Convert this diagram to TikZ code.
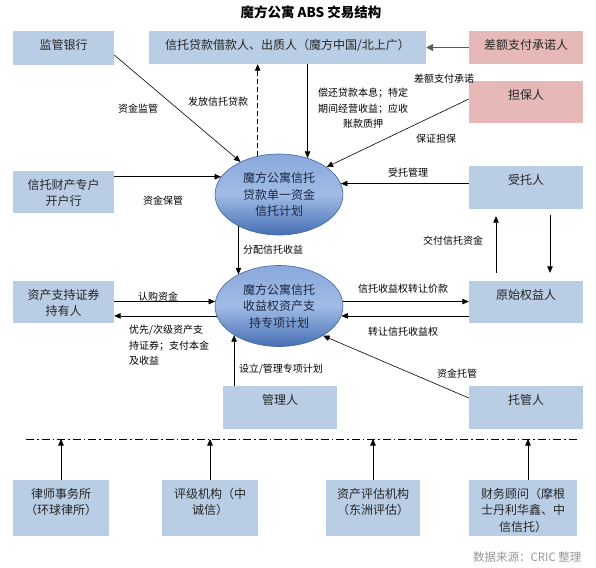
\documentclass[tikz,border=0pt]{standalone}
\usepackage{fontspec}
\setmainfont{Noto Sans CJK SC}
\usepackage{tikz}
\usetikzlibrary{arrows.meta, positioning, calc, shapes.geometric}
\usepackage{xcolor}
\definecolor{boxblue}{RGB}{185,205,229}
\definecolor{boxpink}{RGB}{230,185,184}
\definecolor{elltop}{RGB}{138,168,218}
\definecolor{ellmid}{RGB}{160,188,230}
\definecolor{ellbot}{RGB}{70,110,178}
\definecolor{ellline}{RGB}{66,102,162}
\definecolor{ellink}{RGB}{28,38,66}
\definecolor{promgray}{RGB}{90,90,90}
\definecolor{srcgray}{RGB}{150,150,150}

\begin{document}
\begin{tikzpicture}[x=1pt, y=-1pt,
  box/.style={rectangle, fill=boxblue, inner sep=0pt},
  pinkbox/.style={box, fill=boxpink},
  boxtxt/.style={anchor=north, yshift=-8pt, inner sep=0pt, align=center,
    font=\fontsize{12}{16.5}\selectfont, text=black!85},
  ell/.style={ellipse, draw=ellline, line width=0.6pt, top color=elltop,
    bottom color=ellbot, middle color=ellmid, minimum width=128pt,
    minimum height=81pt, inner sep=0pt, align=center, text=ellink,
    font=\fontsize{12}{16.5}\selectfont},
  lbl/.style={inner sep=0pt, align=center, font=\fontsize{10}{15.5}\selectfont},
  arr/.style={-{Triangle[length=6.5pt,width=5.5pt]}, line width=0.6pt},
  divider/.style={line width=0.6pt, dash pattern=on 8pt off 3pt on 1.5pt off 3pt}]
  \useasboundingbox (0,0) rectangle (596,567);

  \node[font=\fontsize{13.5}{16}\selectfont\bfseries] (title) at (311,12) {魔方公寓 ABS 交易结构};

  % top row
  \node[box, minimum width=101pt, minimum height=34pt, label={[boxtxt]north:监管银行}] (jgyh) at (63.5,48) {};
  \node[box, minimum width=277pt, minimum height=33pt, label={[boxtxt]north:信托贷款借款人、出质人（魔方中国/北上广）}] (jkr) at (287.5,47.5) {};
  \node[pinkbox, minimum width=114pt, minimum height=33pt, label={[boxtxt]north:差额支付承诺人}] (cezf) at (526,47.5) {};
  \node[pinkbox, minimum width=114pt, minimum height=42pt, label={[boxtxt]north:担保人}] (dbr) at (526,102) {};

  % middle rows
  \node[box, minimum width=101pt, minimum height=42pt, label={[boxtxt]north:信托财产专户\\开户行}] (zhh) at (63.5,192) {};
  \node[box, minimum width=114pt, minimum height=43pt, label={[boxtxt]north:受托人}] (stt) at (526,187.5) {};
  \node[box, minimum width=101pt, minimum height=42pt, label={[boxtxt]north:资产支持证券\\持有人}] (zqr) at (63.5,302) {};
  \node[box, minimum width=114pt, minimum height=42pt, label={[boxtxt]north:原始权益人}] (ysr) at (526,302) {};
  \node[box, minimum width=114pt, minimum height=43pt, label={[boxtxt]north:管理人}] (gl) at (280,407.5) {};
  \node[box, minimum width=114pt, minimum height=43pt, label={[boxtxt]north:托管人}] (tg) at (526,407.5) {};

  \node[ell] (e1) at (279,194.5) {魔方公寓信托\\贷款单一资金\\信托计划};
  \node[ell] (e2) at (279,306) {魔方公寓信托\\收益权资产支\\持专项计划};

  % connectors
  \draw[arr] ([yshift=-7pt]jgyh.east) -- (e1);
  \draw[arr, dash pattern=on 5pt off 3pt] (e1.119) -- (e1.119 |- jkr.south);
  \draw[arr] (jkr.south -| e1.52) -- (e1.52);
  \draw[-{Triangle[length=7pt,width=7pt]}, draw=promgray, fill=promgray, line width=1.5pt] (cezf.west) -- (jkr.east);
  \draw[arr] ([yshift=3pt]dbr.west) -- (e1.30);
  \draw[arr] (stt.west |- e1.10) -- (e1.10);
  \draw[arr] (zhh.east |- e1.163) -- (e1.163);
  \draw[arr] (e1.218) -- (e2.142);
  \draw[arr] ([xshift=-30pt,yshift=8pt]ysr.north) -- ([xshift=-30pt,yshift=-7pt]stt.south);
  \draw[arr] ([xshift=24pt,yshift=-5.5pt]stt.south) -- ([xshift=24pt,yshift=8pt]ysr.north);
  \draw[arr] (zqr.east |- e2.176) -- (e2.176);
  \draw[arr] (e2.189) -- (e2.189 -| zqr.east);
  \draw[arr] (e2.4) -- (e2.4 -| ysr.west);
  \draw[arr] (ysr.west |- e2.351) -- (e2.351);
  \draw[arr] (gl.north -| e2.213) -- (e2.213);
  \draw[arr] ([yshift=9.5pt]tg.west) -- (e2.326);

  % labels
  \node[lbl] (l-jg) at (138,109) {资金监管};
  \node[lbl] (l-ff) at (218,102) {发放信托贷款};
  \node[lbl] (l-ch) at (363,108.5) {偿还贷款本息；特定\\期间经营收益；应收\\账款质押};
  \node[lbl] (l-ce) at (444,79) {差额支付承诺};
  \node[lbl] (l-bz) at (436,139) {保证担保};
  \node[lbl] (l-st) at (408,173) {受托管理};
  \node[lbl] (l-bg) at (163,201) {资金保管};
  \node[lbl] (l-fp) at (273,250) {分配信托收益};
  \node[lbl] (l-jf) at (453,240.5) {交付信托资金};
  \node[lbl] (l-rg) at (158,297) {认购资金};
  \node[lbl, anchor=west, align=left] (l-yx) at (129,345.5) {优先/次级资产支\\持证券；支付本金\\及收益};
  \node[lbl] (l-zr) at (403,289) {信托收益权转让价款};
  \node[lbl] (l-zs) at (403,332) {转让信托收益权};
  \node[lbl] (l-sl) at (281,369) {设立/管理专项计划};
  \node[lbl] (l-tg) at (457,374) {资金托管};

  % service providers
  \coordinate (divl) at (26,439);
  \coordinate (divr) at (579,439);
  \draw[divider] (divl) -- (divr);
  \node[box, minimum width=96pt, minimum height=56pt, label={[boxtxt]north:律师事务所\\（环球律所）}] (ls) at (61,508) {};
  \node[box, minimum width=96pt, minimum height=56pt, label={[boxtxt]north:评级机构（中\\诚信）}] (pj) at (210,508) {};
  \node[box, minimum width=94pt, minimum height=56pt, label={[boxtxt]north:资产评估机构\\（东洲评估）}] (pg) at (373,508) {};
  \node[box, minimum width=108pt, minimum height=56pt, label={[boxtxt]north:财务顾问（摩根\\士丹利华鑫、中\\信信托）}] (cw) at (523,508) {};
  \draw[arr] (ls.north) -- (ls.north |- divl);
  \draw[arr] (pj.north) -- (pj.north |- divl);
  \draw[arr] (pg.north) -- (pg.north |- divl);
  \draw[arr] ([xshift=5pt]cw.north) -- ([xshift=5pt]cw.north |- divl);

  \node[anchor=east, text=srcgray, font=\fontsize{11.5}{14}\selectfont] (src) at (585,557) {数据来源：CRIC 整理};
\end{tikzpicture}
\end{document}
